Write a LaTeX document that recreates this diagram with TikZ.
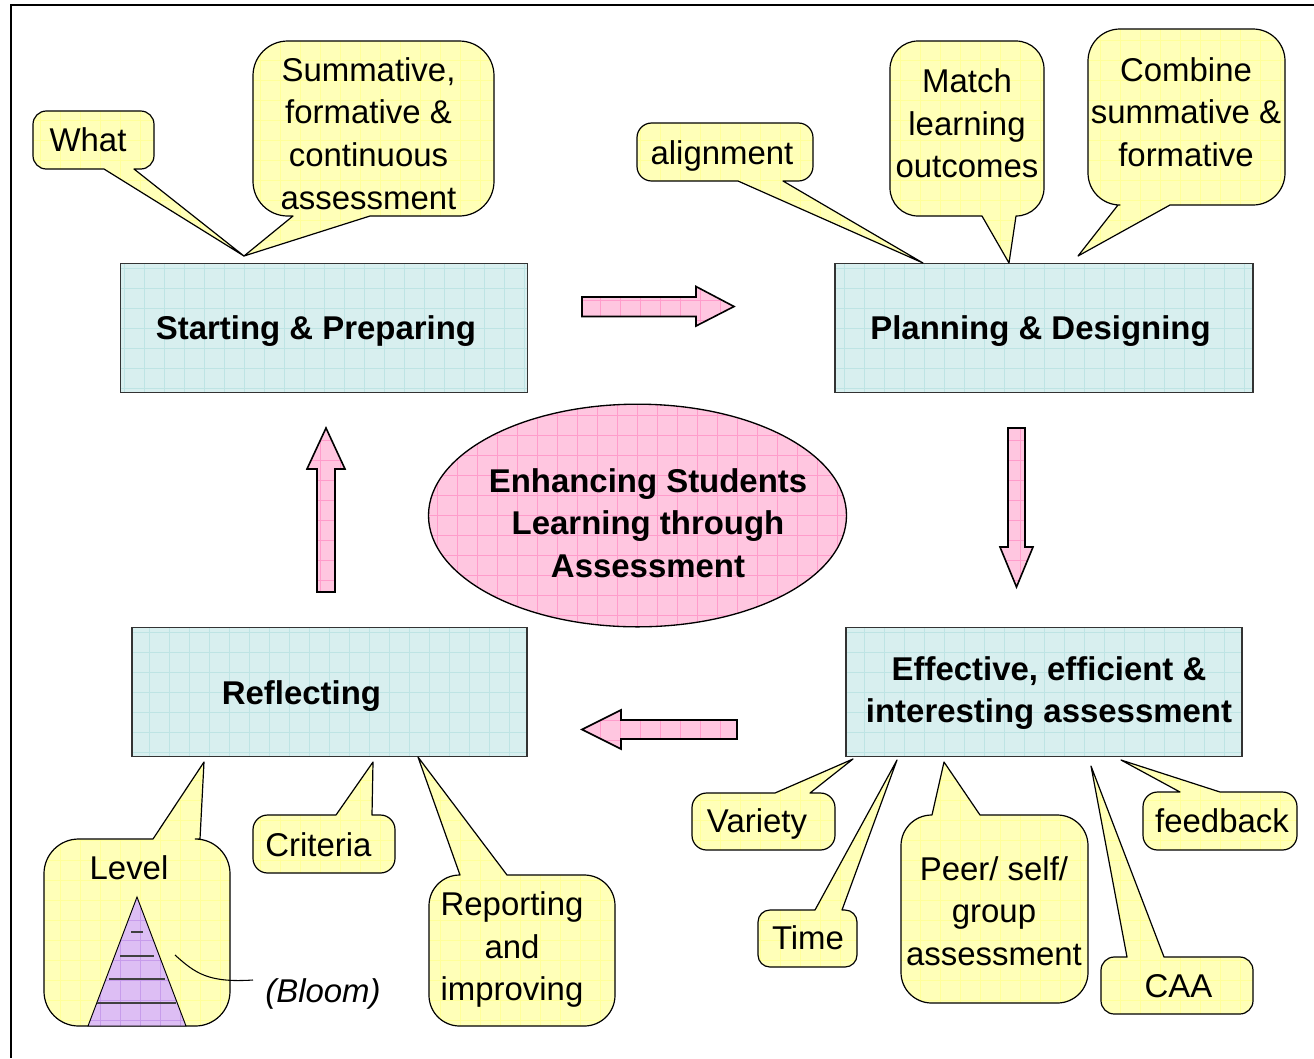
\documentclass[tikz,border=0pt]{standalone}
\usepackage{fontspec}
\setmainfont{Liberation Sans}
\usetikzlibrary{shapes.geometric}
\definecolor{bubblefill}{HTML}{FFFFB8}
\definecolor{bubblegrid}{HTML}{FFFF99}
\definecolor{boxfill}{HTML}{D8EFEF}
\definecolor{boxgrid}{HTML}{BEE4E4}
\definecolor{pinkfill}{HTML}{FFC6E0}
\definecolor{pinkgrid}{HTML}{FF9CCB}
\definecolor{bloomfill}{HTML}{DDBEF4}
\definecolor{bloomgrid}{HTML}{C79CEB}
\tikzset{
  gridfill/.style={fill=#1fill,path picture={\draw[#1grid,line width=.45pt] (path picture bounding box.south west) grid[step=15pt] (path picture bounding box.north east);}},
  bubble/.style={draw=black,line width=.9pt,gridfill=bubble,line join=round},
  mainbox/.style={draw=black!80,line width=1.1pt,gridfill=box,inner sep=0pt},
  blockarrow/.style={draw=black,line width=1.2pt,gridfill=pink,line join=miter},
  bubbletext/.style={align=center,inner sep=0pt,font=\fontsize{24.7}{32}\selectfont},
  boldtext/.style={align=center,inner sep=0pt,font=\fontsize{24.7}{32}\selectfont\bfseries},
}
\begin{document}
\begin{tikzpicture}[x=.75pt,y=-.75pt]
\useasboundingbox (0,0) rectangle (1314,1058);
\draw[line width=.9pt] (1314,5) -- (11,5) -- (11,1058);
% main boxes
\node[mainbox,minimum width=305pt,minimum height=96.5pt] (start) at (324,328) {};
\node[mainbox,minimum width=313.5pt,minimum height=96.5pt] (plan) at (1044,328) {};
\node[mainbox,minimum width=297pt,minimum height=96.5pt] (effective) at (1044,692) {};
\node[mainbox,minimum width=296pt,minimum height=96.5pt] (reflect) at (329.5,692) {};
\node[boldtext] (starttext) at (316,331.5) {Starting \& Preparing};
\node[boldtext] (plantext) at (1040.5,331.5) {Planning \& Designing};
\node[boldtext] (effectivetext) at (1049,693) {Effective, efficient \&\\interesting assessment};
\node[boldtext] (reflecttext) at (301.5,696) {Reflecting};
% centre
\node[draw=black,line width=1pt,gridfill=pink,ellipse,minimum width=313.5pt,minimum height=167pt,inner sep=0pt] (centre) at (637.5,515.5) {};
\node[boldtext] (centretext) at (648,523) {Enhancing Students\\Learning through\\Assessment};
% block arrows
\draw[blockarrow] (582,297) -- (696,297) -- (696,286.5) -- (734,306.5) -- (696,326) -- (696,316.5) -- (582,316.5) -- cycle;
\draw[blockarrow] (1008,428) -- (1025,428) -- (1025,547) -- (1033,547) -- (1016.5,587) -- (1000,547) -- (1008,547) -- cycle;
\draw[blockarrow] (737,720) -- (621,720) -- (621,710) -- (582,729.5) -- (621,749) -- (621,739) -- (737,739) -- cycle;
\draw[blockarrow] (317,592) -- (317,469) -- (307,469) -- (326,428) -- (345,469) -- (335,469) -- (335,592) -- cycle;
% callouts
\draw[bubble] (134,169) [rounded corners=10pt] -- (154,169) -- (154,111) -- (33,111) -- (33,169) [sharp corners] -- (104,169) -- (244,256) -- cycle;
\node[bubbletext] (what) at (88,140) {What};
\draw[bubble] (370,216) [rounded corners=26pt] -- (494,216) -- (494,41) -- (253,41) -- (253,216) [sharp corners] -- (293,216) -- (244,256) -- cycle;
\node[bubbletext] (summative) at (368.5,133.5) {Summative,\\formative \&\\continuous\\assessment};
\draw[bubble] (783,181) [rounded corners=11pt] -- (813,181) -- (813,123) -- (637,123) -- (637,181) [sharp corners] -- (738,181) -- (923,263) -- cycle;
\node[bubbletext] (alignment) at (722,156) {alignment};
\draw[bubble] (1016,216) [rounded corners=21pt] -- (1044,216) -- (1044,41) -- (890,41) -- (890,216) [sharp corners] -- (982,216) -- (1009,263) -- cycle;
\node[bubbletext] (match) at (967,123.5) {Match\\learning\\outcomes};
\draw[bubble] (1170,205) [rounded corners=24pt] -- (1285,205) -- (1285,29) -- (1088,29) -- (1088,205) [sharp corners] -- (1118,205) -- (1078,256) -- cycle;
\node[bubbletext] (combine) at (1186,112) {Combine\\summative \&\\formative};
\draw[bubble] (775,793) [rounded corners=11pt] -- (692,793) -- (692,850) -- (835,850) -- (835,793) [sharp corners] -- (810,793) -- (853,759) -- cycle;
\node[bubbletext] (variety) at (757,824) {Variety};
\draw[bubble] (815,910) [rounded corners=9pt] -- (758,910) -- (758,967) -- (857,967) -- (857,910) [sharp corners] -- (842,910) -- (897,760) -- cycle;
\node[bubbletext] (time) at (808,938) {Time};
\draw[bubble] (932,815) [rounded corners=23pt] -- (901,815) -- (901,1003) -- (1088,1003) -- (1088,815) [sharp corners] -- (980,815) -- (944,762) -- cycle;
\node[bubbletext] (peer) at (994,911) {Peer/ self/\\group\\assessment};
\draw[bubble] (1127,957) [rounded corners=10pt] -- (1101,957) -- (1101,1014) -- (1253,1014) -- (1253,957) [sharp corners] -- (1164,957) -- (1091,766) -- cycle;
\node[bubbletext] (caa) at (1178.5,986) {CAA};
\draw[bubble] (1180,792) [rounded corners=11pt] -- (1143,792) -- (1143,850) -- (1297,850) -- (1297,792) [sharp corners] -- (1220,792) -- (1121,760) -- cycle;
\node[bubbletext] (feedback) at (1222,821) {feedback};
\draw[bubble] (153,839) [rounded corners=26pt] -- (44,839) -- (44,1026) -- (230,1026) -- (230,839) [sharp corners] -- (200,839) -- (204,762) -- cycle;
\node[bubbletext] (level) at (129,868) {Level};
\draw[bubble] (336,815) [rounded corners=11pt] -- (253,815) -- (253,873) -- (395,873) -- (395,815) [sharp corners] -- (372,815) -- (373,762) -- cycle;
\node[bubbletext] (criteria) at (318.5,845) {Criteria};
\draw[bubble] (460,875) [rounded corners=23pt] -- (429,875) -- (429,1026) -- (615,1026) -- (615,875) [sharp corners] -- (507,875) -- (418,757) -- cycle;
\node[bubbletext] (reporting) at (512,949.5) {Reporting\\and\\improving};
% pyramid
\draw[line width=.7pt,gridfill=bloom] (137,897) -- (186,1026) -- (88,1026) -- cycle;
\foreach \yy/\xa/\xb in {932/131/143,956/120/154,979/109/165,1003/97/176}
  \draw[line width=.9pt,black!75] (\xa,\yy) -- (\xb,\yy);
\node[bubbletext,font=\fontsize{24.7}{32}\selectfont\itshape] (bloom) at (323,994) {(Bloom)};
\coordinate (pyramidside) at (175,955);
\draw[line width=.8pt] (pyramidside) .. controls (195,973) and (208,983) .. (253,980);
\end{tikzpicture}
\end{document}
